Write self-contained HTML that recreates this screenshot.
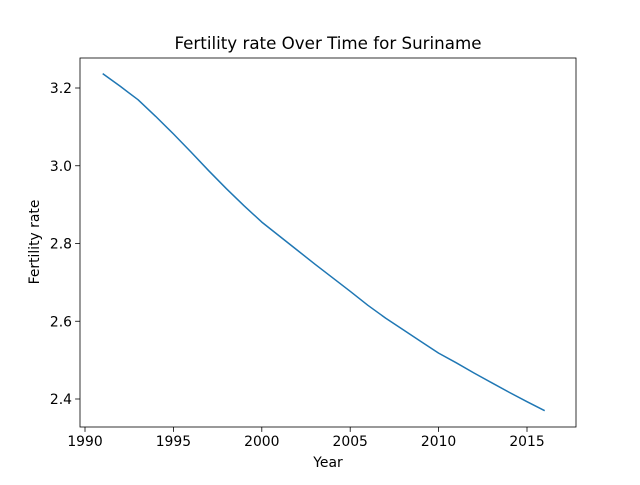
<!DOCTYPE html>
<html><head><meta charset="utf-8"><style>body{margin:0;background:#fff}svg{font-family:"DejaVu Sans","Liberation Sans",sans-serif}</style></head>
<body>
<svg id="c" width="640" height="480"></svg>
<script>
const years=[1991,1992,1993,1994,1995,1996,1997,1998,1999,2000,2001,2002,2003,2004,2005,2006,2007,2008,2009,2010,2011,2012,2013,2014,2015,2016];
const values=[3.237,3.204,3.170,3.127,3.082,3.035,2.987,2.941,2.897,2.855,2.819,2.783,2.747,2.712,2.677,2.641,2.608,2.578,2.548,2.518,2.493,2.467,2.442,2.417,2.393,2.370];
const xTicks=[1990,1995,2000,2005,2010,2015];
const yTicks=[2.4,2.6,2.8,3.0,3.2];
const yTickLabels=["2.4","2.6","2.8","3.0","3.2"];
const L=80,R=576,T=58,B=427;
const xs=v=>85+(v-1990)*17.68;
const ys=v=>399-(v-2.4)*388.75;
const svg=document.getElementById('c');const NS='http://www.w3.org/2000/svg';
function mk(t,a,p){const e=document.createElementNS(NS,t);for(const k in a)e.setAttribute(k,a[k]);(p||svg).appendChild(e);return e;}
let d=years.map((y,i)=>(i?'L':'M')+xs(y).toFixed(1)+','+ys(values[i]).toFixed(1)).join('');
const line=mk('path',{d:d,fill:'none',stroke:'#1f77b4','stroke-width':1.5,'stroke-linejoin':'round'});


const frame=mk('rect',{x:L,y:T,width:R-L,height:B-T,fill:'none',stroke:'#000','stroke-width':0.8});


xTicks.forEach(v=>{const x=xs(v);mk('line',{x1:x,x2:x,y1:B,y2:B+4.9,stroke:'#000','stroke-width':0.8});
const t=mk('text',{x:x,y:B+19,'text-anchor':'middle','font-size':13.9});t.textContent=v;

});
yTicks.forEach((v,i)=>{const y=ys(v);mk('line',{x1:L-4.9,x2:L,y1:y,y2:y,stroke:'#000','stroke-width':0.8});
const t=mk('text',{x:L-8,y:y+5,'text-anchor':'end','font-size':13.9});t.textContent=yTickLabels[i];

});
const xt=mk('text',{x:328,y:467,'text-anchor':'middle','font-size':13.9});xt.textContent='Year';


const yt=mk('text',{x:0,y:0,'text-anchor':'middle','font-size':13.9,transform:'translate(39,242) rotate(-90)'});yt.textContent='Fertility rate';


const tt=mk('text',{x:328,y:49,'text-anchor':'middle','font-size':16.7});tt.textContent='Fertility rate Over Time for Suriname';


</script>
</body></html>
